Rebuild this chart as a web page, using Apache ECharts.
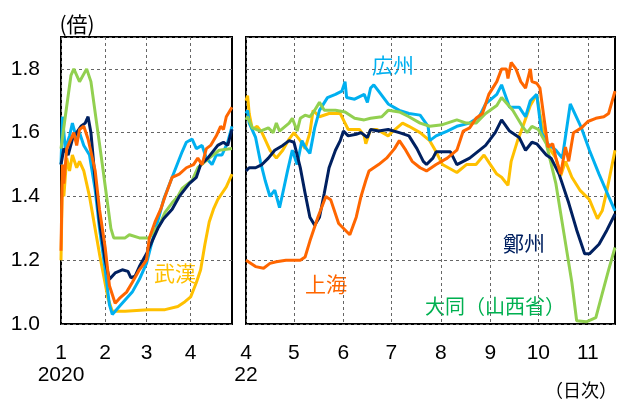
<!DOCTYPE html>
<html>
<head>
<meta charset="utf-8">
<script src="https://cdn.jsdelivr.net/npm/echarts@6/dist/echarts.min.js"></script>
<style>
  html, body { margin: 0; padding: 0; background: #fff; }
  #chart { width: 617px; height: 400px; }
</style>
</head>
<body>
<div id="chart"></div>
<script>
// 2020 (Jan-Apr) and 2022 (Apr-Nov) daily ratios, [date, value]
const wuhan20 = [['1/1',1.20],['1/2',1.45],['1/3',1.40],['1/5',1.52],['1/7',1.48],['1/9',1.53],['1/12',1.49],['1/14',1.51],['1/17',1.48],['1/21',1.40],['1/28',1.22],['2/3',1.08],['2/6',1.04],['2/15',1.04],['3/2',1.045],['3/14',1.045],['3/23',1.055],['3/28',1.07],['4/1',1.085],['4/5',1.13],['4/8',1.17],['4/11',1.25],['4/14',1.32],['4/17',1.36],['4/20',1.39],['4/23',1.41],['4/26',1.43],['4/30',1.47]];
const shanghai20 = [['1/1',1.23],['1/2',1.50],['1/3',1.44],['1/5',1.55],['1/7',1.57],['1/10',1.60],['1/12',1.56],['1/14',1.61],['1/17',1.62],['1/20',1.58],['1/25',1.48],['1/28',1.36],['2/1',1.24],['2/4',1.12],['2/8',1.065],['2/11',1.08],['2/16',1.10],['2/20',1.13],['2/25',1.17],['3/1',1.20],['3/3',1.27],['3/7',1.32],['3/11',1.36],['3/14',1.40],['3/19',1.46],['3/24',1.47],['3/29',1.49],['4/3',1.50],['4/6',1.52],['4/9',1.50],['4/12',1.55],['4/15',1.56],['4/19',1.59],['4/22',1.62],['4/24',1.61],['4/26',1.65],['4/30',1.68]];
const guangzhou20 = [['1/1',1.50],['1/2',1.65],['1/4',1.55],['1/7',1.59],['1/9',1.63],['1/12',1.58],['1/14',1.60],['1/17',1.56],['1/21',1.53],['1/25',1.42],['1/28',1.30],['2/1',1.17],['2/4',1.06],['2/6',1.03],['2/12',1.06],['2/20',1.10],['2/25',1.14],['3/1',1.19],['3/5',1.26],['3/10',1.34],['3/13',1.39],['3/19',1.46],['3/26',1.54],['3/29',1.57],['4/2',1.58],['4/5',1.55],['4/9',1.56],['4/12',1.52],['4/16',1.50],['4/19',1.53],['4/23',1.53],['4/27',1.57],['4/30',1.62]];
const zhengzhou20 = [['1/1',1.50],['1/3',1.55],['1/6',1.53],['1/9',1.58],['1/12',1.60],['1/15',1.62],['1/18',1.63],['1/20',1.65],['1/22',1.60],['1/25',1.45],['1/28',1.32],['2/1',1.20],['2/4',1.14],['2/8',1.16],['2/13',1.17],['2/17',1.165],['2/19',1.145],['2/22',1.15],['2/25',1.18],['3/1',1.22],['3/5',1.26],['3/9',1.30],['3/13',1.33],['3/19',1.36],['3/24',1.40],['3/31',1.44],['4/5',1.46],['4/8',1.50],['4/13',1.52],['4/20',1.56],['4/24',1.57],['4/27',1.56],['4/30',1.61]];
const datong20 = [['1/1',1.55],['1/4',1.65],['1/8',1.78],['1/10',1.80],['1/14',1.76],['1/19',1.80],['1/22',1.76],['1/26',1.63],['1/30',1.50],['2/2',1.40],['2/5',1.30],['2/7',1.27],['2/15',1.27],['2/18',1.28],['2/25',1.27],['3/3',1.27],['3/6',1.29],['3/10',1.31],['3/14',1.35],['3/19',1.38],['3/23',1.40],['3/26',1.425],['4/2',1.45],['4/6',1.49],['4/14',1.52],['4/21',1.545],['4/30',1.55]];

const wuhan22 = [['4/1',1.70],['4/2',1.716],['4/3',1.66],['4/5',1.61],['4/8',1.62],['4/11',1.60],['4/16',1.545],['4/20',1.52],['4/24',1.545],['4/28',1.58],['5/1',1.60],['5/5',1.575],['5/8',1.55],['5/11',1.60],['5/13',1.67],['5/17',1.65],['5/23',1.66],['5/30',1.66],['6/2',1.63],['6/4',1.61],['6/11',1.61],['6/14',1.59],['6/15',1.565],['6/18',1.61],['6/22',1.61],['6/29',1.59],['7/1',1.60],['7/8',1.63],['7/12',1.62],['7/19',1.60],['7/25',1.575],['7/29',1.54],['8/2',1.50],['8/11',1.475],['8/17',1.50],['8/23',1.50],['8/28',1.53],['9/1',1.50],['9/5',1.47],['9/8',1.46],['9/12',1.435],['9/14',1.51],['9/18',1.575],['9/21',1.615],['9/26',1.685],['9/30',1.72],['10/2',1.66],['10/5',1.58],['10/8',1.55],['10/12',1.52],['10/15',1.465],['10/18',1.51],['10/22',1.46],['10/27',1.42],['11/2',1.39],['11/7',1.33],['11/10',1.355],['11/13',1.42],['11/18',1.545]];
const guangzhou22 = [['4/1',1.66],['4/2',1.67],['4/3',1.63],['4/7',1.585],['4/10',1.51],['4/13',1.45],['4/16',1.40],['4/19',1.42],['4/22',1.365],['4/24',1.41],['4/27',1.48],['4/30',1.545],['5/3',1.50],['5/6',1.575],['5/8',1.555],['5/11',1.535],['5/14',1.615],['5/17',1.67],['5/22',1.71],['5/27',1.72],['5/31',1.73],['6/2',1.76],['6/3',1.71],['6/8',1.705],['6/14',1.72],['6/16',1.695],['6/18',1.74],['6/20',1.75],['6/23',1.73],['6/29',1.69],['7/6',1.67],['7/12',1.66],['7/19',1.655],['7/24',1.62],['7/25',1.575],['7/29',1.59],['8/5',1.605],['8/11',1.62],['8/19',1.63],['8/25',1.65],['8/29',1.69],['9/5',1.72],['9/8',1.75],['9/13',1.68],['9/19',1.68],['9/23',1.65],['9/26',1.70],['9/30',1.72],['10/3',1.60],['10/7',1.565],['10/12',1.545],['10/16',1.52],['10/21',1.69],['10/28',1.615],['11/2',1.545],['11/8',1.47],['11/14',1.40],['11/18',1.355]];
const zhengzhou22 = [['4/1',1.48],['4/3',1.49],['4/7',1.49],['4/11',1.50],['4/15',1.52],['4/19',1.545],['4/24',1.56],['4/28',1.575],['5/1',1.57],['5/5',1.49],['5/8',1.41],['5/11',1.335],['5/14',1.31],['5/17',1.335],['5/20',1.41],['5/23',1.49],['5/27',1.545],['5/30',1.575],['6/1',1.605],['6/4',1.59],['6/9',1.595],['6/12',1.60],['6/16',1.585],['6/18',1.61],['6/23',1.605],['6/29',1.61],['7/6',1.60],['7/12',1.59],['7/17',1.55],['7/21',1.51],['7/23',1.50],['7/27',1.52],['7/29',1.54],['8/7',1.54],['8/11',1.50],['8/19',1.52],['8/29',1.56],['9/4',1.60],['9/8',1.64],['9/13',1.605],['9/19',1.585],['9/23',1.545],['9/27',1.57],['9/30',1.565],['10/6',1.53],['10/9',1.52],['10/14',1.47],['10/20',1.38],['10/25',1.295],['10/30',1.22],['11/2',1.22],['11/8',1.25],['11/13',1.295],['11/18',1.345]];
const datong22 = [['4/1',1.64],['4/2',1.65],['4/5',1.615],['4/10',1.605],['4/15',1.615],['4/18',1.60],['4/20',1.63],['4/22',1.605],['4/28',1.63],['4/30',1.645],['5/3',1.605],['5/5',1.645],['5/8',1.655],['5/11',1.65],['5/14',1.67],['5/17',1.695],['5/20',1.67],['5/27',1.67],['6/2',1.665],['6/8',1.645],['6/14',1.64],['6/18',1.645],['6/25',1.65],['6/29',1.67],['7/6',1.665],['7/12',1.65],['7/19',1.63],['7/25',1.62],['8/2',1.625],['8/11',1.64],['8/17',1.63],['8/23',1.63],['8/29',1.66],['9/5',1.685],['9/8',1.71],['9/15',1.67],['9/21',1.62],['9/24',1.60],['9/27',1.62],['10/1',1.61],['10/6',1.565],['10/12',1.44],['10/17',1.285],['10/22',1.13],['10/25',1.01],['10/31',1.007],['11/6',1.02],['11/10',1.095],['11/14',1.17],['11/18',1.24]];
const shanghai22 = [['4/1',1.20],['4/7',1.18],['4/12',1.175],['4/16',1.19],['4/20',1.195],['4/26',1.20],['5/5',1.20],['5/8',1.21],['5/11',1.26],['5/16',1.335],['5/21',1.40],['5/24',1.39],['5/29',1.315],['6/5',1.28],['6/9',1.335],['6/12',1.40],['6/15',1.45],['6/17',1.48],['6/20',1.49],['6/23',1.50],['6/28',1.52],['7/3',1.55],['7/6',1.575],['7/10',1.545],['7/14',1.51],['7/19',1.49],['7/23',1.48],['7/29',1.50],['8/5',1.52],['8/11',1.545],['8/15',1.605],['8/19',1.615],['8/23',1.645],['8/27',1.66],['8/31',1.72],['9/5',1.76],['9/8',1.80],['9/11',1.80],['9/12',1.77],['9/14',1.82],['9/17',1.80],['9/20',1.76],['9/23',1.74],['9/26',1.80],['9/27',1.76],['9/30',1.755],['10/2',1.74],['10/5',1.63],['10/7',1.555],['10/10',1.565],['10/12',1.52],['10/15',1.47],['10/18',1.555],['10/20',1.51],['10/23',1.60],['10/28',1.615],['11/1',1.635],['11/6',1.645],['11/11',1.65],['11/14',1.66],['11/18',1.73]];

const yTicks = [1.0, 1.2, 1.4, 1.6, 1.8];

// day categories for each panel, "M/D"
function days(year, m0, d0, m1, d1) {
    const out = [];
    let t = Date.UTC(year, m0 - 1, d0);
    const end = Date.UTC(year, m1 - 1, d1);
    while (t <= end) {
        const d = new Date(t);
        out.push((d.getUTCMonth() + 1) + '/' + d.getUTCDate());
        t += 86400000;
    }
    return out;
}
const days2020 = days(2020, 1, 1, 4, 30);
const days2022 = days(2022, 4, 1, 11, 18);

const COLORS = {
    wuhan: '#FFC000',
    shanghai: '#FF6600',
    guangzhou: '#00B0F0',
    zhengzhou: '#002060',
    datong: '#92D050',
};

const isMonthStart = (i, v) => v.endsWith('/1');
const numFont = 'Liberation Sans';
const cjkFont = '"Noto Sans CJK JP"';

function xAxis(gridIndex, cats, yearLabel) {
    return {
        type: 'category',
        gridIndex,
        data: cats,
        boundaryGap: false,
        axisLine: { show: false },
        axisTick: { show: false },
        axisLabel: {
            interval: isMonthStart,
            color: '#000',
            fontSize: 21,
            fontFamily: numFont,
            lineHeight: 22,
            margin: 18,
            formatter(v, i) {
                const m = v.split('/')[0];
                return i === 0 ? m + '\n' + yearLabel : m;
            },
        },
        splitLine: {
            show: true,
            interval: isMonthStart,
            lineStyle: { color: '#666', width: 1, type: [3, 3] },
        },
    };
}

function yAxis(gridIndex, showLabel) {
    return {
        type: 'value',
        gridIndex,
        min: 1.0,
        max: 1.9,
        interval: 0.2,
        axisLine: { show: false },
        axisTick: { show: false },
        axisLabel: {
            show: showLabel,
            showMaxLabel: false,
            color: '#000',
            fontSize: 21,
            fontFamily: numFont,
            margin: 21,
            formatter: (v) => (yTicks.includes(+v.toFixed(1)) ? v.toFixed(1) : ''),
        },
        splitLine: {
            show: true,
            lineStyle: { color: '#666', width: 1, type: [3, 3] },
        },
    };
}

function line(data, color, idx) {
    return {
        type: 'line',
        data,
        xAxisIndex: idx,
        yAxisIndex: idx,
        symbol: 'none',
        smooth: false,
        lineStyle: { color, width: 3 },
        itemStyle: { color },
        silent: true,
    };
}

function label(text, x, y, color, size, align) {
    return {
        type: 'text',
        x,
        y,
        style: {
            text,
            fill: color,
            font: size + 'px ' + cjkFont,
            textAlign: align || 'center',
            textVerticalAlign: 'middle',
        },
    };
}

const chart = echarts.init(document.getElementById('chart'), null, { renderer: 'canvas' });
chart.setOption({
    animation: false,
    backgroundColor: '#fff',
    grid: [
        { left: 61, right: 385, top: 37, bottom: 76, show: true, borderColor: '#000', borderWidth: 2 },
        { left: 246, right: 2, top: 37, bottom: 76, show: true, borderColor: '#000', borderWidth: 2 },
    ],
    xAxis: [xAxis(0, days2020, '2020'), xAxis(1, days2022, '22')],
    yAxis: [yAxis(0, true), yAxis(1, false)],
    series: [
        line(wuhan20, COLORS.wuhan, 0),
        line(guangzhou20, COLORS.guangzhou, 0),
        line(datong20, COLORS.datong, 0),
        line(zhengzhou20, COLORS.zhengzhou, 0),
        line(shanghai20, COLORS.shanghai, 0),
        line(wuhan22, COLORS.wuhan, 1),
        line(guangzhou22, COLORS.guangzhou, 1),
        line(datong22, COLORS.datong, 1),
        line(zhengzhou22, COLORS.zhengzhou, 1),
        line(shanghai22, COLORS.shanghai, 1),
    ],
    graphic: [
        label('(倍)', 77, 24, '#000', 21),
        label('（日次）', 617, 390, '#000', 18, 'right'),
        label('武漢', 175, 273, COLORS.wuhan, 21),
        label('上海', 326, 284, COLORS.shanghai, 21),
        label('広州', 393, 65, COLORS.guangzhou, 21),
        label('鄭州', 524, 243, COLORS.zhengzhou, 21),
        label('大同（山西省）', 425, 306, '#00B050', 20, 'left'),
    ],
});
</script>
</body>
</html>
